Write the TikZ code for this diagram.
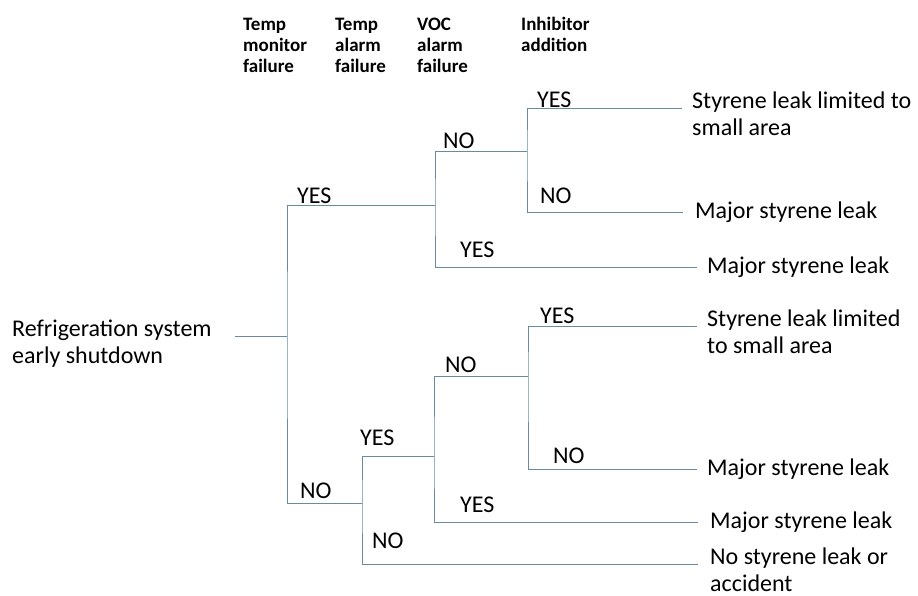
\documentclass[tikz,border=0pt]{standalone}
\usepackage{fontspec}
\setmainfont{Carlito}
\usepackage{xcolor}
\usepackage{tikz}

\definecolor{branchline}{RGB}{105,138,160}

\begin{document}
\begin{tikzpicture}[x=1pt, y=-1pt,
        branch/.style={draw=branchline, line width=0.8pt},
        answer/.style={anchor=base west, inner sep=0pt, font=\fontsize{24}{27.5}\selectfont},
        outcome/.style={anchor=west, inner sep=0pt, font=\fontsize{24}{27.5}\selectfont},
        twoline/.style={anchor=base west, inner sep=0pt, align=flush left, text width=#1, font=\fontsize{24}{27.5}\selectfont},
        header/.style={anchor=base west, inner sep=0pt, align=flush left, text width=85pt, font=\fontsize{19}{21}\selectfont\bfseries}]

        \useasboundingbox (0,0) rectangle (918,595);

        %% Headers
        \node (hMonitor) [header] at (243,30) {Temp\\monitor\\failure};
        \node (hTempAlarm) [header] at (335,30) {Temp\\alarm\\failure};
        \node (hVocAlarm) [header] at (417,30) {VOC\\alarm\\failure};
        \node (hInhibitor) [header] at (521,30) {Inhibitor\\addition};

        %% Initiating event
        \node (root) [twoline=223pt] at (12,336) {Refrigeration system\\early shutdown};

        %% Split points
        \coordinate (sA) at (287,336);
        \coordinate (sB) at (435,205);
        \coordinate (sC) at (527,151);
        \coordinate (sD) at (362,503);
        \coordinate (sE) at (434,456);
        \coordinate (sF) at (528,376);

        %% Outcomes
        \node (L1) [twoline=225pt] at (692,108) {Styrene leak limited to\\small area};
        \node (L2) [outcome] at (695,212) {Major styrene leak};
        \node (L3) [outcome] at (707,267) {Major styrene leak};
        \node (L4) [twoline=210pt] at (707,326) {Styrene leak limited\\to small area};
        \node (L5) [outcome] at (707,469) {Major styrene leak};
        \node (L6) [outcome] at (710,522) {Major styrene leak};
        \node (L7) [twoline=210pt] at (710,564) {No styrene leak or\\accident};

        %% Branches
        \draw [branch] (root.base east) -- (sA);
        \draw [branch] (sB) -| (sA) |- (sD);
        \draw [branch] (sC) -| (sB) |- ([xshift=-10pt]L3.west);
        \draw [branch] ([xshift=-10pt]L1.base west) -| (sC) |- ([xshift=-12pt]L2.west);
        \draw [branch] (sE) -| (sD) |- ([xshift=-12pt]L7.base west);
        \draw [branch] (sF) -| (sE) |- ([xshift=-12pt]L6.west);
        \draw [branch] ([xshift=-10pt]L4.base west) -| (sF) |- ([xshift=-10pt]L5.west);

        %% Answers
        \node (aAy) [answer] at (297,203) {YES};
        \node (aAn) [answer] at (300,498) {NO};
        \node (aBn) [answer] at (443,148) {NO};
        \node (aBy) [answer] at (460,257) {YES};
        \node (aCy) [answer] at (537,107) {YES};
        \node (aCn) [answer] at (540,203) {NO};
        \node (aDy) [answer] at (360,445) {YES};
        \node (aDn) [answer] at (372,548) {NO};
        \node (aEn) [answer] at (445,372) {NO};
        \node (aEy) [answer] at (460,512) {YES};
        \node (aFy) [answer] at (540,323) {YES};
        \node (aFn) [answer] at (553,463) {NO};

\end{tikzpicture}
\end{document}
